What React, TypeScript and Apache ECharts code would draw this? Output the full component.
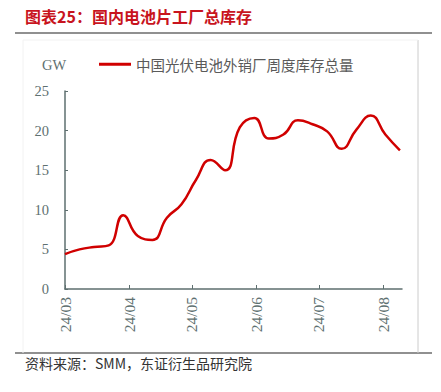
import React, { useEffect, useRef } from "react";
import * as echarts from "echarts";

const dates = [
  "2024-03-01", "2024-03-08", "2024-03-15", "2024-03-22", "2024-03-29",
  "2024-04-05", "2024-04-12", "2024-04-19", "2024-04-26", "2024-05-03",
  "2024-05-10", "2024-05-17", "2024-05-24", "2024-05-31", "2024-06-07",
  "2024-06-14", "2024-06-21", "2024-06-28", "2024-07-05", "2024-07-12",
  "2024-07-19", "2024-07-26", "2024-08-02", "2024-08-09",
];
const inventory = [
  4.4, 5.0, 5.3, 5.5, 9.3, 6.7, 6.2, 9.0, 10.7, 13.8, 16.3, 15.0,
  20.4, 21.6, 19.0, 19.5, 21.3, 20.8, 19.9, 17.7, 20.1, 21.9, 19.5, 17.5,
];
const seriesName = "中国光伏电池外销厂周度库存总量";
const titleText = "图表25：国内电池片工厂总库存";
const sourceText = "资料来源：SMM，东证衍生品研究院";
const yTicks = [0, 5, 10, 15, 20, 25];

export default function App() {
  const ref = useRef<HTMLDivElement>(null);
  useEffect(() => {
    if (!ref.current) return;
    const chart = echarts.init(ref.current, undefined, { renderer: "svg" });
    const axisColor = "#5e6f6f";
    const labelColor = "#5e7070";
    chart.setOption({
      animation: false,
      backgroundColor: "#ffffff",
      grid: { left: 65, right: 39, top: 91, bottom: 103, containLabel: false },
      legend: {
        show: true,
        left: 94,
        top: 52,
        itemWidth: 32,
        itemHeight: 10,
        itemGap: 6,
        textStyle: { color: "#5a5a5a", fontSize: 14.5, fontFamily: "Noto Sans CJK SC" },
        data: [{ name: seriesName, icon: "path://M0,0 L32,0 L32,3 L0,3 Z" }],
      },
      xAxis: {
        type: "time",
        min: new Date("2024-03-01").getTime(),
        max: new Date("2024-08-10").getTime(),
        splitNumber: 5,
        axisLine: { show: true, lineStyle: { color: axisColor, width: 1.5 } },
        axisTick: { show: true, inside: true, length: 4, lineStyle: { color: axisColor } },
        splitLine: { show: false },
        axisLabel: {
          rotate: 90,
          color: labelColor,
          fontFamily: "Liberation Serif",
          fontSize: 15.5,
          margin: 8,
          showMinLabel: true,
          formatter: (v: number) => {
            const d = new Date(v);
            const yy = String(d.getFullYear()).slice(2);
            const mm = String(d.getMonth() + 1).padStart(2, "0");
            return `${yy}/${mm}`;
          },
        },
      },
      yAxis: {
        type: "value",
        min: yTicks[0],
        max: yTicks[yTicks.length - 1],
        interval: 5,
        axisLine: { show: true, lineStyle: { color: axisColor, width: 1.5 } },
        axisTick: { show: true, inside: true, length: 3, lineStyle: { color: axisColor } },
        splitLine: { show: false },
        axisLabel: {
          color: labelColor,
          fontFamily: "Liberation Serif",
          fontSize: 14.5,
          margin: 16,
        },
      },
      series: [
        {
          name: seriesName,
          type: "line",
          data: dates.map((d, i) => [new Date(d).getTime(), inventory[i]]),
          smooth: 0.5,
          symbol: "none",
          showSymbol: false,
          lineStyle: { color: "#d00000", width: 2.5 },
          itemStyle: { color: "#d00000" },
        },
      ],
      graphic: [
        {
          type: "text",
          left: 25,
          top: 8,
          style: {
            text: titleText,
            fill: "#c8141e",
            fontSize: 16,
            fontWeight: "bold",
            fontFamily: "Noto Sans CJK SC",
          },
        },
        {
          type: "line",
          shape: { x1: 15, y1: 33, x2: 432, y2: 33 },
          style: { stroke: "#222222", lineWidth: 1.2 },
        },
        {
          type: "line",
          shape: { x1: 15, y1: 353, x2: 432, y2: 353 },
          style: { stroke: "#222222", lineWidth: 1.2 },
        },
        {
          type: "line",
          shape: { x1: 418, y1: 40, x2: 418, y2: 353 },
          style: { stroke: "#cccccc", lineWidth: 1 },
        },
        {
          type: "line",
          shape: { x1: 23, y1: 40, x2: 418, y2: 40 },
          style: { stroke: "#f2f2f2", lineWidth: 1 },
        },
        {
          type: "line",
          shape: { x1: 23, y1: 40, x2: 23, y2: 353 },
          style: { stroke: "#f2f2f2", lineWidth: 1 },
        },
        {
          type: "text",
          left: 42,
          top: 57,
          style: {
            text: "GW",
            fill: labelColor,
            fontSize: 14.5,
            fontFamily: "Liberation Serif",
          },
        },
        {
          type: "text",
          left: 25,
          top: 356,
          style: {
            text: sourceText,
            fill: "#333333",
            fontSize: 14,
            fontFamily: "Noto Sans CJK SC",
          },
        },
      ],
    });
    return () => chart.dispose();
  }, []);
  return (
    <div
      ref={ref}
      style={{ position: "fixed", left: 0, top: 0, width: 441, height: 392 }}
    />
  );
}
